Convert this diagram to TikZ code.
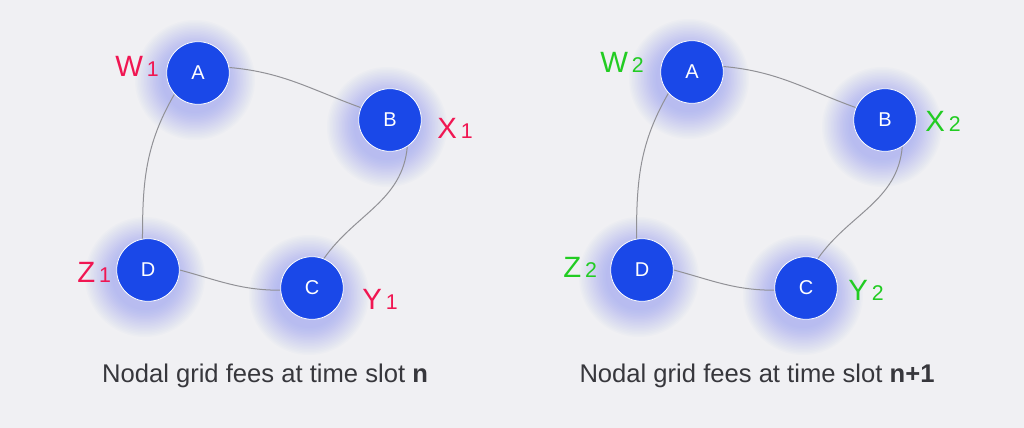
\documentclass[tikz,border=0pt]{standalone}
\usepackage{fontspec}
\setmainfont{Liberation Sans}
\usetikzlibrary{backgrounds}
\definecolor{pagebg}{RGB}{240,240,243}
\definecolor{gridblue}{RGB}{26,72,232}
\definecolor{glowblue}{RGB}{105,115,240}
\definecolor{linkgray}{RGB}{145,145,150}
\definecolor{feered}{RGB}{240,22,82}
\definecolor{feegreen}{RGB}{34,204,34}
\definecolor{captext}{RGB}{55,55,60}
\newcommand{\feeidx}[1]{\kern3pt{\fontsize{16}{16}\selectfont #1}}

\begin{document}
\begin{tikzpicture}[
  x=0.75pt, y=0.75pt,
  station/.style={
    circle, fill=gridblue, draw=white, line width=0.6pt,
    minimum size=47pt, inner sep=0pt,
    text=white, font=\fontsize{15}{17}\selectfont
  },
  link/.style={draw=linkgray, line width=0.75pt},
  fee/.style={anchor=base west, inner sep=0pt, text=#1, font=\fontsize{22}{24}\selectfont},
  caption/.style={anchor=base, inner sep=0pt, text=captext, font=\fontsize{19.2}{22}\selectfont},
  halo/.style={fill=glowblue, fill opacity=0.022}
]

% time slot n
\node[station] (A1) at (198,-73) {A};
\node[station] (B1) at (390,-120) {B};
\node[station] (C1) at (312,-288) {C};
\node[station] (D1) at (148,-270) {D};

\node[fee=feered] (W1) at (115,-77) {W\feeidx{1}};
\node[fee=feered] (X1) at (437,-138) {X\feeidx{1}};
\node[fee=feered] (Y1) at (362,-309) {Y\feeidx{1}};
\node[fee=feered] (Z1) at (77,-282) {Z\feeidx{1}};

\node[caption] (cap1) at (265,-382) {Nodal grid fees at time slot \textbf{n}};

% time slot n+1
\node[station] (A2) at (692,-72) {A};
\node[station] (B2) at (885,-120) {B};
\node[station] (C2) at (806,-288) {C};
\node[station] (D2) at (642,-270) {D};

\node[fee=feegreen] (W2) at (600,-73) {W\feeidx{2}};
\node[fee=feegreen] (X2) at (925,-132) {X\feeidx{2}};
\node[fee=feegreen] (Y2) at (848,-300) {Y\feeidx{2}};
\node[fee=feegreen] (Z2) at (563,-277) {Z\feeidx{2}};

\node[caption] (cap2) at (757,-382) {Nodal grid fees at time slot \textbf{n+1}};

\begin{scope}[on background layer]
  \fill[pagebg] (0,0) rectangle (1024,-428);
  \foreach \n in {A1,B1,C1,D1,A2,B2,C2,D2}
    \foreach \r in {33,34.5,...,60}
      \fill[halo] ([shift={(-3,-7)}]\n.center) circle (\r);

  \draw[link] (A1.10) to[out=-5,in=160] (B1.157);
  \draw[link] (B1.-57) to[out=-95,in=55] (C1.68);
  \draw[link] (D1.0) to[out=-15,in=180] (C1.184);
  \draw[link] (D1.100) to[out=90,in=-120] (A1.222);

  \draw[link] (A2.10) to[out=-5,in=160] (B2.157);
  \draw[link] (B2.-57) to[out=-95,in=55] (C2.68);
  \draw[link] (D2.0) to[out=-15,in=180] (C2.184);
  \draw[link] (D2.100) to[out=90,in=-120] (A2.222);
\end{scope}

\end{tikzpicture}
\end{document}
